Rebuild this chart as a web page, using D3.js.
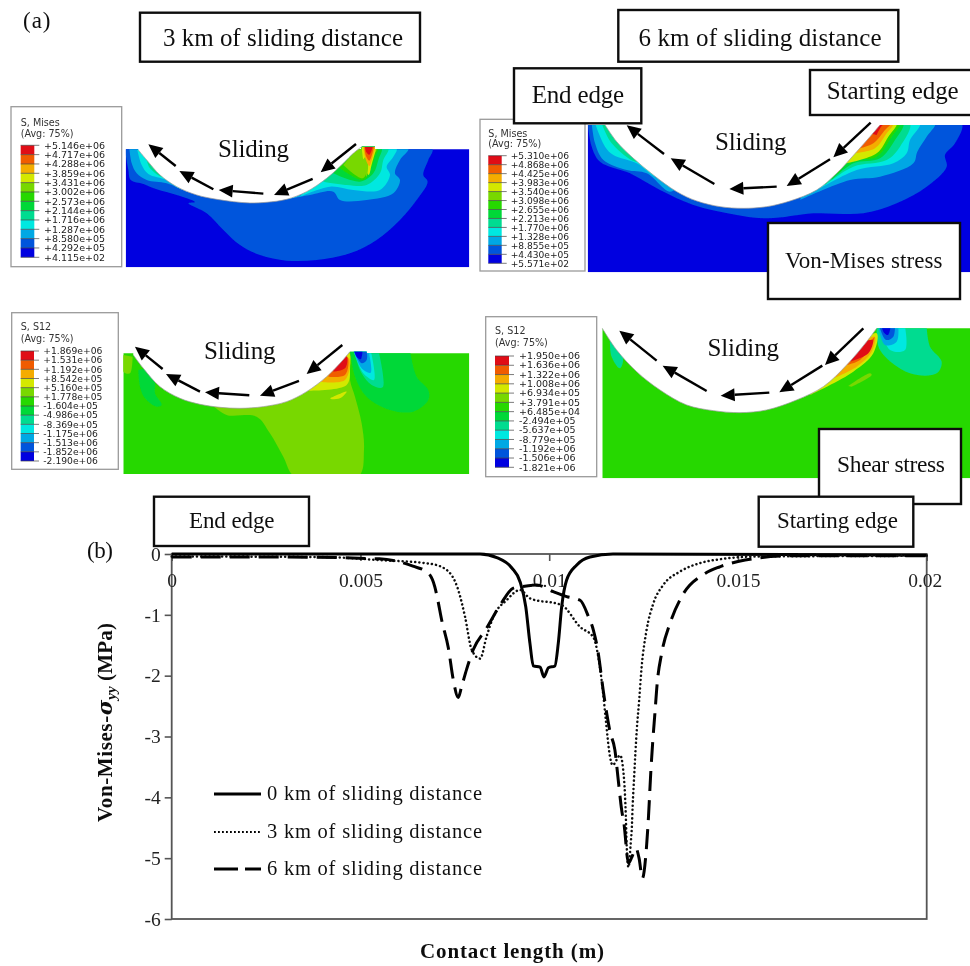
<!DOCTYPE html>
<html><head><meta charset="utf-8">
<script src="https://d3js.org/d3.v7.min.js"></script>
<style>html,body{margin:0;padding:0;background:#fff}svg{display:block}</style>
</head><body><svg id="c" width="970" height="966"></svg>
<script>
// ---------- line chart data ----------
const xTicks = [0, 0.005, 0.01, 0.015, 0.02];
const xTickLabels = ["0", "0.005", "0.01", "0.015", "0.02"];
const yTicks = [0, -1, -2, -3, -4, -5, -6];
const seriesNames = ["0 km of sliding distance", "3 km of sliding distance", "6 km of sliding distance"];
const km0 = [[0,0],[.00817,0],[.00861,-.06],[.00901,-.23],[.00923,-.46],[.00938,-.87],[.00949,-1.47],[.00958,-1.84],[.00976,-1.86],[.00986,-2.02],[.00998,-1.87],[.01015,-1.84],[.01024,-1.47],[.01033,-.87],[.01046,-.43],[.01073,-.18],[.01108,-.05],[.01169,0],[.02,-.02]];
const km3 = [[0,-.04],[.004,-.05],[.0055,-.1],[.00684,-.16],[.00728,-.26],[.00759,-.59],[.00777,-1.03],[.00795,-1.58],[.00817,-1.72],[.00834,-1.36],[.00852,-1.03],[.00887,-.76],[.00923,-.59],[.00949,-.73],[.01033,-.84],[.01082,-1.2],[.01117,-1.37],[.0113,-1.69],[.01142,-2.24],[.0115,-2.73],[.01161,-3.33],[.01168,-3.47],[.01188,-3.31],[.01196,-3.55],[.01201,-3.99],[.01203,-4.31],[.01205,-4.75],[.0121,-5.15],[.01216,-4.75],[.01219,-4.48],[.01221,-4.15],[.01225,-3.66],[.01232,-2.89],[.01238,-2.43],[.01245,-1.85],[.01258,-1.25],[.01276,-.81],[.01302,-.51],[.01346,-.29],[.01399,-.15],[.01452,-.087],[.01558,-.04],[.02,-.03]];
const km6 = [[0,-.05],[.003,-.05],[.0055,-.08],[.00639,-.2],[.00679,-.31],[.00697,-.54],[.00705,-.76],[.00715,-1.08],[.00733,-1.55],[.00746,-2.07],[.00759,-2.36],[.00768,-2.18],[.00781,-1.9],[.00799,-1.57],[.00834,-1.22],[.0087,-.84],[.00905,-.56],[.00923,-.54],[.00967,-.51],[.01011,-.62],[.01046,-.7],[.01082,-.76],[.01104,-1.03],[.01117,-1.25],[.0113,-1.63],[.01143,-2.24],[.01154,-2.68],[.01161,-2.92],[.01174,-3.22],[.01183,-3.72],[.01192,-4.21],[.01198,-4.43],[.0121,-5.08],[.01219,-4.98],[.0123,-4.84],[.01238,-5.0],[.01247,-5.33],[.01256,-4.95],[.01263,-4.32],[.01269,-3.6],[.01274,-3.11],[.0128,-2.62],[.01286,-2.13],[.01298,-1.63],[.0132,-1.14],[.01351,-.7],[.01413,-.32],[.01452,-.21],[.01519,-.1],[.01638,-.03],[.02,-.03]];

// ---------- contour legends ----------
const bandColors = ["#0000e0","#0054dc","#00a8e4","#00e8e0","#00dc90","#00d838","#28d800","#78d800","#d4e800","#f4ac00","#f05c00","#e00818"];
const legendA = ["+5.146e+06","+4.717e+06","+4.288e+06","+3.859e+06","+3.431e+06","+3.002e+06","+2.573e+06","+2.144e+06","+1.716e+06","+1.287e+06","+8.580e+05","+4.292e+05","+4.115e+02"];
const legendB = ["+5.310e+06","+4.868e+06","+4.425e+06","+3.983e+06","+3.540e+06","+3.098e+06","+2.655e+06","+2.213e+06","+1.770e+06","+1.328e+06","+8.855e+05","+4.430e+05","+5.571e+02"];
const legendC = ["+1.869e+06","+1.531e+06","+1.192e+06","+8.542e+05","+5.160e+05","+1.778e+05","-1.604e+05","-4.986e+05","-8.369e+05","-1.175e+06","-1.513e+06","-1.852e+06","-2.190e+06"];
const legendD = ["+1.950e+06","+1.636e+06","+1.322e+06","+1.008e+06","+6.934e+05","+3.791e+05","+6.485e+04","-2.494e+05","-5.637e+05","-8.779e+05","-1.192e+06","-1.506e+06","-1.821e+06"];

// ---------- contour meshes: [band index, outline] in mesh units ----------
const surfaceA = [[415,450],[440,480],[480,525],[530,560],[590,585],[650,598],[700,605],[750,609],[800,607],[860,598],[920,575],[980,535],[1030,490],[1060,460],[1085,440]];
const meshA = [
 [1,[[377,448],[378,470],[385,510],[392,540],[430,552],[470,568],[530,585],[585,606],[565,610],[620,640],[670,690],[720,735],[780,765],[860,782],[950,780],[1050,760],[1130,720],[1200,660],[1250,600],[1283,545],[1270,525],[1285,480],[1297,446],[1085,430],[700,500],[400,430]]],
 [2,[[388,446],[395,490],[410,520],[440,540],[500,550],[570,575],[600,560],[415,440]]],
 [2,[[860,598],[930,585],[1000,575],[1020,600],[1100,600],[1180,580],[1200,540],[1185,520],[1200,480],[1225,446],[1085,430],[1000,480]]],
 [3,[[412,450],[425,495],[445,522],[500,540],[540,565],[560,550],[440,440]]],
 [3,[[900,590],[990,560],[1060,570],[1140,570],[1170,525],[1160,500],[1180,470],[1190,446],[1085,430],[1000,480]]],
 [4,[[440,480],[450,505],[490,532],[500,520],[450,470]]],
 [4,[[970,545],[1040,555],[1100,555],[1140,520],[1150,480],[1165,444],[1085,430],[1000,480]]],
 [5,[[1000,520],[1080,545],[1120,520],[1135,480],[1145,442],[1085,430],[1000,480]]],
 [6,[[1020,505],[1090,540],[1110,510],[1125,470],[1135,442],[1085,430],[1020,480]]],
 [7,[[1030,495],[1088,535],[1105,505],[1122,465],[1132,441],[1085,430]]],
 [8,[[1085,441],[1092,490],[1106,525],[1116,490],[1130,441]]],
 [7,[[1088,480],[1100,530],[1104,490],[1096,470]]],
 [9,[[1090,441],[1097,478],[1108,498],[1118,470],[1126,441]]],
 [10,[[1093,441],[1098,468],[1108,482],[1122,441]]],
 [11,[[1095,441],[1099,456],[1108,464],[1118,441]]]
];
const surfaceB = [[375,375],[410,425],[460,475],[520,525],[590,575],[650,603],[720,620],[790,625],[860,620],[930,603],[1010,570],[1070,520],[1130,455],[1170,410],[1200,375]];
const meshB = [
 [1,[[323,370],[335,440],[360,485],[450,520],[540,570],[640,615],[720,635],[860,655],[1000,640],[1150,640],[1250,610],[1340,560],[1400,500],[1395,465],[1425,430],[1445,370],[1200,360],[800,500]]],
 [2,[[335,370],[345,430],[370,480],[440,510],[500,520],[570,575],[600,550],[400,360]]],
 [2,[[960,600],[1110,540],[1200,530],[1300,490],[1312,455],[1340,410],[1365,370],[1200,360],[1000,500]]],
 [3,[[345,370],[375,440],[400,465],[470,490],[530,530],[550,510],[400,360]]],
 [3,[[1020,565],[1130,510],[1240,490],[1280,460],[1290,420],[1320,370],[1200,360],[1020,500]]],
 [4,[[365,370],[395,430],[470,485],[490,460],[400,360]]],
 [4,[[1035,555],[1120,500],[1220,480],[1260,440],[1290,370],[1200,360],[1040,500]]],
 [5,[[1055,540],[1120,490],[1200,475],[1245,420],[1270,370],[1200,360],[1050,500]]],
 [6,[[1075,520],[1110,482],[1190,470],[1235,410],[1260,370],[1200,360],[1060,500]]],
 [8,[[1100,490],[1190,460],[1225,410],[1250,370],[1200,360],[1080,480]]],
 [9,[[1125,460],[1185,445],[1220,400],[1240,370],[1200,360],[1110,440]]],
 [10,[[1140,445],[1180,430],[1215,390],[1232,370],[1200,360],[1120,430]]],
 [11,[[1190,405],[1208,375],[1226,370],[1200,360],[1170,400]]]
];
const surfaceC = [[400,165],[430,205],[480,260],[540,295],[600,313],[660,322],[720,325],[790,320],[860,305],[920,275],[980,230],[1020,190],[1050,155]];
const meshC = [
 [7,[[370,165],[370,215],[390,220],[398,170]]],
 [7,[[640,318],[680,345],[770,350],[810,400],[850,470],[885,530],[1075,530],[1092,450],[1085,370],[1065,290],[1050,240],[1045,150],[900,250]]],
 [5,[[415,210],[420,260],[435,295],[470,320],[485,315],[465,280],[465,250],[440,205]]],
 [5,[[1050,150],[1065,230],[1100,290],[1170,330],[1240,335],[1285,300],[1285,270],[1250,230],[1230,150]]],
 [4,[[1060,150],[1085,220],[1115,255],[1148,262],[1135,150]]],
 [3,[[1060,150],[1090,220],[1122,240],[1112,150]]],
 [2,[[1060,150],[1085,205],[1112,218],[1105,150]]],
 [1,[[1060,150],[1085,190],[1100,180],[1100,150]]],
 [0,[[1062,150],[1070,170],[1082,178],[1088,150]]],
 [8,[[915,272],[1040,255],[1050,200],[1045,155],[950,220]]],
 [8,[[990,295],[1040,275],[1020,295],[995,298]]],
 [9,[[960,245],[1035,240],[1047,175],[1000,180]]],
 [10,[[985,230],[1035,225],[1042,170],[1000,180]]],
 [11,[[1000,215],[1035,205],[1040,170],[1000,190]]]
];
const surfaceD = [[367,85],[410,150],[470,215],[540,270],[620,315],[700,332],[780,338],[860,330],[950,300],[1030,260],[1100,195],[1160,125],[1190,85]];
const meshD = [
 [4,[[390,110],[395,170],[420,205],[430,170],[400,100]]],
 [4,[[1190,80],[1200,150],[1290,220],[1370,220],[1385,185],[1350,140],[1340,80]]],
 [3,[[1200,80],[1230,150],[1275,150],[1275,80]]],
 [2,[[1195,80],[1215,135],[1250,125],[1255,80]]],
 [1,[[1198,80],[1218,120],[1240,110],[1245,80]]],
 [0,[[1205,80],[1212,98],[1224,105],[1232,80]]],
 [7,[[1105,258],[1170,220],[1175,225],[1115,260]]],
 [8,[[990,285],[1120,215],[1180,160],[1190,100],[1100,150]]],
 [9,[[1060,235],[1130,200],[1175,155],[1184,110],[1100,150]]],
 [10,[[1100,195],[1140,180],[1178,130],[1184,110]]],
 [11,[[1110,185],[1165,160],[1178,120],[1140,130]]]
];
const arrowsA = [[1068,432,962,517],[938,537,822,585],[790,581,656,570],[640,568,538,513],[527,498,445,433]];
const arrowsB = [[1172,368,1060,472],[1050,478,920,558],[890,560,748,567],[703,552,572,475],[552,462,440,376]];
const arrowsC = [[1027,135,920,222],[897,243,780,287],[748,286,615,277],[600,275,498,222],[488,207,405,140]];
const arrowsD = [[1150,85,1035,195],[1027,197,898,277],[868,278,722,287],[680,273,548,197],[530,182,418,92]];

// ---------- layout ----------
const serif = "'Liberation Serif', serif";
const svg = d3.select("#c");
const defs = svg.append("defs");
defs.append("filter").attr("id","soft").attr("filterUnits","userSpaceOnUse").attr("x",0).attr("y",0).attr("width",970).attr("height",966)
  .append("feGaussianBlur").attr("stdDeviation",0.45);
const root = svg.append("g").attr("filter","url(#soft)");
root.append("rect").attr("width",970).attr("height",966).attr("fill","#fff");

function drawPanel(o){
  const x = d3.scaleLinear().domain(o.dx).range(o.rx);
  const y = d3.scaleLinear().domain(o.dy).range(o.ry);
  const g = root.append("g");
  const smooth = d3.line().x(d=>x(d[0])).y(d=>y(d[1])).curve(d3.curveCatmullRom);
  const id = "clip"+o.id;
  const cp = defs.append("clipPath").attr("id",id);
  cp.append("rect").attr("x",o.rx[0]).attr("width",o.rx[1]-o.rx[0]).attr("y",o.ry[0]).attr("height",o.ry[1]-o.ry[0]);
  if(o.lip) cp.append("rect").attr("x",x(o.lip[0])).attr("width",x(o.lip[1])-x(o.lip[0])).attr("y",y(o.lip[2])).attr("height",o.ry[0]-y(o.lip[2])+1);
  const m = g.append("g").attr("clip-path",`url(#${id})`);
  m.append("rect").attr("x",o.rx[0]).attr("width",o.rx[1]-o.rx[0]).attr("y",o.ry[0]-6).attr("height",o.ry[1]-o.ry[0]+6).attr("fill",o.base);
  m.selectAll("path.b").data(o.mesh).join("path").attr("class","b")
    .attr("d",d=>smooth(d[1])+"Z").attr("fill",d=>bandColors[d[0]]);
  const s = o.surface, first = s[0], last = s[s.length-1];
  g.append("path").attr("fill","#fff")
    .attr("d", smooth(s)+`L${x(last[0])},${y(o.dy[0])-30}L${x(first[0])},${y(o.dy[0])-30}Z`);
  g.append("path").attr("fill","none").attr("stroke","#9a9a9a").attr("stroke-width",0.7).attr("d",smooth(s));
  // legend box
  const L = o.legend;
  g.append("rect").attr("x",L.x).attr("y",L.y).attr("width",L.w).attr("height",L.h)
    .attr("fill","#fff").attr("stroke","#9a9a9a").attr("stroke-width",1.3);
  const sans = "'DejaVu Sans', sans-serif";
  g.append("text").attr("x",L.bx).attr("y",L.t1).text(o.title).attr("font-family",sans).attr("font-size",9.6).attr("fill","#333");
  g.append("text").attr("x",L.bx).attr("y",L.t2).text("(Avg: 75%)").attr("font-family",sans).attr("font-size",9.6).attr("fill","#333");
  const ly = d3.scaleLinear().domain([0,12]).range([L.by0,L.by1]);
  d3.range(12).forEach(i=>{
    g.append("rect").attr("x",L.bx).attr("width",L.bw).attr("y",ly(i)).attr("height",ly(i+1)-ly(i))
      .attr("fill",bandColors[11-i]);
  });
  o.labels.forEach((t,i)=>{
    g.append("line").attr("x1",L.bx).attr("x2",L.bx+L.bw+5).attr("y1",ly(i)).attr("y2",ly(i)).attr("stroke","#444").attr("stroke-width",0.7);
    g.append("text").attr("x",L.lx).attr("y",ly(i)+L.ldy).text(t).attr("font-family",sans).attr("font-size",L.fs).attr("fill","#222");
  });
  // arrows
  o.arrows.forEach(a=>{
    const x1=x(a[0]),y1=y(a[1]),x2=x(a[2]),y2=y(a[3]);
    const len=Math.hypot(x2-x1,y2-y1),ux=(x2-x1)/len,uy=(y2-y1)/len;
    const bx=x2-ux*14,by=y2-uy*14;
    g.append("line").attr("x1",x1).attr("y1",y1).attr("x2",bx).attr("y2",by).attr("stroke","#000").attr("stroke-width",2.4);
    g.append("path").attr("fill","#000").attr("d",`M${x2},${y2}L${bx-uy*6.5},${by+ux*6.5}L${bx+uy*6.5},${by-ux*6.5}Z`);
  });
}
drawPanel({id:"A",dx:[377,1408],dy:[448,802],rx:[125.7,469.3],ry:[149.3,267.3],base:bandColors[0],mesh:meshA,surface:surfaceA,arrows:arrowsA,lip:[1085,1125,440],title:"S, Mises",labels:legendA,
  legend:{x:11,y:106.7,w:110.7,h:160,bx:20.7,bw:13.6,t1:126,t2:136.7,by0:145.3,by1:257.3,lx:44,ldy:3.2,fs:9.5}});
drawPanel({id:"B",dx:[323,1470],dy:[375,817],rx:[587.7,970],ry:[125,272.3],base:bandColors[0],mesh:meshB,surface:surfaceB,arrows:arrowsB,title:"S, Mises",labels:legendB,
  legend:{x:480,y:119.3,w:105,h:151.7,bx:488.3,bw:13.4,t1:136.7,t2:147.3,by0:155.7,by1:263.3,lx:510.7,ldy:3.2,fs:9.1}});
drawPanel({id:"C",dx:[370,1408],dy:[160,522],rx:[123.3,469.3],ry:[353.3,474],base:bandColors[6],mesh:meshC,surface:surfaceC,arrows:arrowsC,lip:[1045,1100,155],title:"S, S12",labels:legendC,
  legend:{x:11.7,y:312.7,w:106.6,h:156.6,bx:20.7,bw:13.3,t1:330,t2:341.7,by0:351,by1:461,lx:43.3,ldy:3.2,fs:9.2}});
drawPanel({id:"D",dx:[367,1470],dy:[85,535],rx:[602.3,970],ry:[328.3,478.3],base:bandColors[6],mesh:meshD,surface:surfaceD,arrows:arrowsD,title:"S, S12",labels:legendD,
  legend:{x:485.7,y:316.7,w:111,h:160,bx:495,bw:14,t1:334.3,t2:346,by0:356,by1:467.3,lx:519,ldy:3.2,fs:9.5}});

// text helpers
function label(t,x,y,fs,len,opt={}){
  const e = root.append("text").attr("x",x).attr("y",y).text(t).attr("font-family",serif).attr("font-size",fs).attr("fill","#111");
  if(len) e.attr("textLength",len).attr("lengthAdjust","spacing");
  if(opt.bold) e.attr("font-weight","bold");
  return e;
}
function box(x0,y0,x1,y1,t,tx,base,fs,len){
  root.append("rect").attr("x",x0).attr("y",y0).attr("width",x1-x0).attr("height",y1-y0).attr("fill","#fff").attr("stroke","#111").attr("stroke-width",2.4);
  label(t,tx,base,fs,len);
}
label("(a)",23,28,23,27.5);
box(140,12.7,420,61.7,"3 km of sliding distance",163,46,25,240);
box(618.3,10,898.3,61.7,"6 km of sliding distance",638.5,46,25,243);
box(514,68.3,641.3,123.3,"End edge",531.7,103,25,92.5);
box(810,70,975,115,"Starting edge",826.7,99,25,132);
box(768,223,960,299,"Von-Mises stress",785,268,23,157.5);
label("Sliding",218,157,25,71); label("Sliding",715,150,25,71.5);
label("Sliding",204,359.3,25,71.5); label("Sliding",707.5,355.7,25,71.5);
box(819,429,961,504,"Shear stress",837,471.7,23.5,108);
box(758.7,496.7,913.3,546.7,"Starting edge",777,528,23,121);
box(154,496.7,309,546,"End edge",189,528,23,85.5);

// ---------- line chart ----------
const X = d3.scaleLinear().domain([0,0.02]).range([171.7,926.7]);
const Y = d3.scaleLinear().domain([0,-6]).range([554,919]);
const chart = root.append("g");
const axisCol="#555";
chart.append("rect").attr("x",X(0)).attr("y",Y(0)).attr("width",X(.02)-X(0)).attr("height",Y(-6)-Y(0)).attr("fill","none").attr("stroke",axisCol).attr("stroke-width",1.8);
const yAxis = d3.axisLeft(Y).tickValues(yTicks).tickSize(7).tickPadding(4).tickFormat(d=>String(d));
const gy = chart.append("g").attr("transform",`translate(${X(0)},0)`).call(yAxis);
gy.select(".domain").remove();
gy.selectAll("line").attr("stroke",axisCol).attr("stroke-width",1.6);
gy.selectAll("text").attr("font-family",serif).attr("font-size",19.5).attr("fill","#222");
const xAxis = d3.axisBottom(X).tickValues(xTicks).tickSize(7).tickPadding(12).tickFormat((d,i)=>xTickLabels[i]);
const gx = chart.append("g").attr("transform",`translate(0,${Y(0)})`).call(xAxis);
gx.select(".domain").remove();
gx.selectAll("line").attr("stroke",axisCol).attr("stroke-width",1.6);
gx.selectAll("text").attr("font-family",serif).attr("font-size",19.5).attr("fill","#222");
gx.selectAll("g.tick").filter((d,i)=>i===4).select("text").attr("dx",-2);

const line = d3.line().x(d=>X(d[0])).y(d=>Y(d[1])).curve(d3.curveMonotoneX);
chart.append("path").datum(km0).attr("d",line).attr("fill","none").attr("stroke","#000").attr("stroke-width",3);
chart.append("path").datum(km3).attr("d",line).attr("fill","none").attr("stroke","#111").attr("stroke-width",2.5).attr("stroke-dasharray","0.1 4.1").attr("stroke-linecap","round");
chart.append("path").datum(km6).attr("d",line).attr("fill","none").attr("stroke","#000").attr("stroke-width",3).attr("stroke-dasharray","20 9");

// chart legend
const legY = [794,832,869];
const legStyle = [{w:3,d:null},{w:1.8,d:"1.8 2.2"},{w:3,d:"24 7"}];
seriesNames.forEach((n,i)=>{
  chart.append("line").attr("x1",214).attr("x2",261).attr("y1",legY[i]).attr("y2",legY[i]).attr("stroke","#000")
    .attr("stroke-width",legStyle[i].w).attr("stroke-dasharray",legStyle[i].d);
  label(n,267,legY[i]+6,20.5,215);
});
label("(b)",87,558,23,26);
label("Contact length (m)",420,958,21,184,{bold:true});
const yt = root.append("text").attr("transform","translate(112,822) rotate(-90)").attr("font-family",serif).attr("font-size",21).attr("font-weight","bold").attr("fill","#111");
yt.append("tspan").attr("letter-spacing",0.6).text("Von-Mises-");
yt.append("tspan").attr("font-style","italic").attr("font-family","'DejaVu Serif', serif").text("σ");
yt.append("tspan").attr("font-style","italic").attr("font-size",15).attr("dy",4).text("yy");
yt.append("tspan").attr("dy",-4).attr("letter-spacing",0.2).text(" (MPa)");
</script></body></html>
